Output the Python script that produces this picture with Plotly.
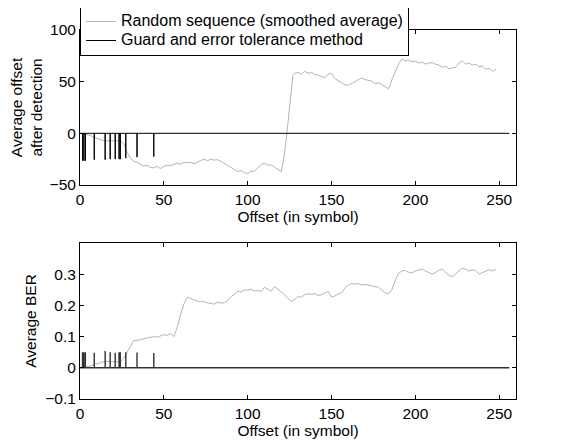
import plotly.graph_objects as go
from plotly.subplots import make_subplots

# ---- data ----
x_rand = list(range(0, 127, 2)) + [127] + list(range(128, 249, 2))
# top: average offset after detection (random sequence, smoothed)
offset_rand = [0, -0.5, -1, -2, -3.5, -5, -6, -7, -7.5, -7, -7.5, -7.5, -7, -10, -18, -24,
               -27, -28, -30, -31.5, -31, -33, -33.5, -32, -34, -32, -31, -31.5, -30, -29, -30, -28,
               -28.5, -28, -29.5, -28, -26, -25, -26.5, -25, -26, -25.5, -27, -29, -31, -33.5, -35, -37,
               -36, -38, -39, -36.5, -37, -33, -30, -29, -31, -30.5, -33, -35, -37, -20, 10, 45,
               56,
               58, 59, 57.5, 60, 58, 59, 57, 56.5, 55, 54, 57, 58, 53, 51, 49, 47,
               46.5, 48, 50, 52, 53.5, 52, 51, 50.5, 48, 49, 47, 45, 43, 52, 60, 67,
               72, 70, 71, 69, 70, 68, 69, 67, 68, 68.5, 67, 66, 64, 65, 62.5, 63,
               64, 68, 70, 67, 68, 66, 67, 64.5, 65, 62, 63, 60, 62]
x_ber = list(range(0, 249, 2))
ber_rand = [0, 0.001, 0.003, 0.006, 0.01, 0.013, 0.016, 0.019, 0.021, 0.02, 0.019, 0.018, 0.018,
            0.03, 0.05, 0.072, 0.087, 0.088, 0.09, 0.092, 0.094, 0.096, 0.1, 0.098, 0.103, 0.106,
            0.104, 0.11, 0.1, 0.13, 0.17, 0.205, 0.226, 0.222, 0.217, 0.214, 0.212, 0.212, 0.208,
            0.206, 0.204, 0.21, 0.207, 0.209, 0.215, 0.228, 0.235, 0.245, 0.242, 0.25, 0.248, 0.252,
            0.246, 0.248, 0.244, 0.258, 0.25, 0.245, 0.26, 0.252, 0.242, 0.234, 0.222, 0.212, 0.22,
            0.228, 0.226, 0.234, 0.237, 0.235, 0.238, 0.232, 0.234, 0.24, 0.245, 0.226, 0.23, 0.237,
            0.24, 0.255, 0.266, 0.27, 0.268, 0.27, 0.265, 0.267, 0.264, 0.262, 0.26, 0.258, 0.25,
            0.24, 0.237, 0.25, 0.28, 0.303, 0.31, 0.312, 0.306, 0.305, 0.31, 0.314, 0.316, 0.31,
            0.304, 0.3, 0.305, 0.312, 0.316, 0.305, 0.296, 0.292, 0.3, 0.31, 0.319, 0.316, 0.31,
            0.314, 0.312, 0.3, 0.305, 0.31, 0.314, 0.31, 0.316]

# guard and error tolerance method: zero everywhere except detection spikes
guard_end = 256
spike_pos = [1.5, 2.3, 3.2, 8.5, 15, 18, 21, 23.3, 24, 27.3, 34, 44]
spike_offset = [-26.5, -26.5, -26.5, -25.5, -25.5, -25, -25, -25, -25, -24, -23, -22.5]
spike_ber = [0.05, 0.05, 0.05, 0.048, 0.054, 0.05, 0.048, 0.05, 0.05, 0.05, 0.049, 0.047]

series_names = ["Random sequence (smoothed average)", "Guard and error tolerance method"]


def guard_series(pos, vals, end):
    xs, ys = [0], [0]
    for p, v in zip(pos, vals):
        xs += [p, p, p]
        ys += [0, v, 0]
    xs.append(end)
    ys.append(0)
    return xs, ys


gx1, gy1 = guard_series(spike_pos, spike_offset, guard_end)
gx2, gy2 = guard_series(spike_pos, spike_ber, guard_end)

GRAY = "#b4b4b4"
FONT = "Liberation Sans, Arial, Helvetica, sans-serif"
FS = 15.5


def big(name):
    return '<span style="font-size:16px">' + name + "</span>"


fig = make_subplots(rows=2, cols=1, vertical_spacing=0.0)

fig.add_trace(go.Scatter(x=x_rand, y=offset_rand, mode="lines",
                         line=dict(color=GRAY, width=1),
                         name=big(series_names[0])), row=1, col=1)
fig.add_trace(go.Scatter(x=gx1, y=gy1, mode="lines",
                         line=dict(color="black", width=1),
                         name=big(series_names[1])), row=1, col=1)
fig.add_trace(go.Scatter(x=x_ber, y=ber_rand, mode="lines",
                         line=dict(color=GRAY, width=1), showlegend=False), row=2, col=1)
fig.add_trace(go.Scatter(x=gx2, y=gy2, mode="lines",
                         line=dict(color="#333333", width=1.4), showlegend=False), row=2, col=1)

axis_common = dict(showline=True, linecolor="black", linewidth=1, mirror="ticks",
                   ticks="inside", ticklen=4, tickcolor="black", showgrid=False,
                   zeroline=False, automargin=False, tickfont=dict(size=FS, color="black"))

fig.update_xaxes(range=[0, 260], tickvals=[0, 50, 100, 150, 200, 250],
                 title=dict(text="Offset (in symbol)", font=dict(size=FS, color="black"), standoff=0),
                 ticklabelstandoff=0,
                 **axis_common)
fig.update_yaxes(row=1, col=1, range=[-50, 100], tickvals=[-50, 0, 50, 100],
                 title=dict(text="Average offset<br>after detection", font=dict(size=FS, color="black"),
                            standoff=4),
                 domain=[0.58, 1.0], **axis_common)
fig.update_yaxes(row=2, col=1, range=[-0.1, 0.4], tickvals=[-0.1, 0, 0.1, 0.2, 0.3],
                 ticktext=["\u22120.1", "0", "0.1", "0.2", "0.3"],
                 title=dict(text="Average BER", font=dict(size=FS, color="black"), standoff=4),
                 domain=[0.0, 0.423], **axis_common)
fig.update_xaxes(row=1, col=1, domain=[0, 1])
fig.update_xaxes(row=2, col=1, domain=[0, 1])

fig.update_layout(
    width=553, height=435,
    margin=dict(l=72, r=45, t=22, b=44, autoexpand=False),
    paper_bgcolor="white", plot_bgcolor="white",
    font=dict(family=FONT, size=FS, color="black"),
    legend=dict(x=0, y=1.065, xanchor="left", yanchor="top",
                bgcolor="white", bordercolor="black", borderwidth=1,
                font=dict(size=12), tracegroupgap=0, itemwidth=30),
)

fig.write_html("out.html")
